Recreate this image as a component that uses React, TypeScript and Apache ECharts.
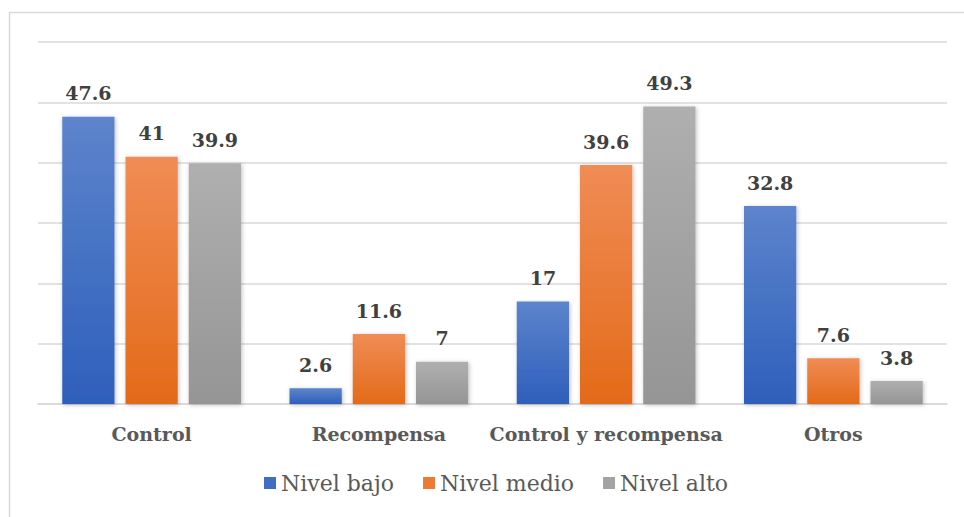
import React, { useEffect, useRef } from "react";
import * as echarts from "echarts";

const categories = ["Control", "Recompensa", "Control y recompensa", "Otros"];
const seriesNames = ["Nivel bajo", "Nivel medio", "Nivel alto"];
const nivelBajo = [47.6, 2.6, 17, 32.8];
const nivelMedio = [41, 11.6, 39.6, 7.6];
const nivelAlto = [39.9, 7, 49.3, 3.8];

const serif = "DejaVu Serif";

const grad = (top: string, bottom: string) =>
  new echarts.graphic.LinearGradient(0, 0, 0, 1, [
    { offset: 0, color: top },
    { offset: 1, color: bottom },
  ]);

const palette = [
  { top: "#5d84cc", bottom: "#2e5fbb", legend: "#3f6ec3" },
  { top: "#f08c55", bottom: "#e36a19", legend: "#ec7a35" },
  { top: "#afafaf", bottom: "#959595", legend: "#a3a3a3" },
];

export default function App() {
  const ref = useRef<HTMLDivElement>(null);

  useEffect(() => {
    if (!ref.current) return;
    const chart = echarts.init(ref.current, null, { renderer: "svg" });
    const values = [nivelBajo, nivelMedio, nivelAlto];

    chart.setOption({
      animation: false,
      backgroundColor: "#ffffff",
      textStyle: { fontFamily: serif },
      graphic: [
        {
          type: "rect",
          shape: { x: 9.5, y: 12.5, width: 980, height: 530 },
          style: { fill: "none", stroke: "#d9d9d9", lineWidth: 1.5 },
          silent: true,
          z: -1,
        },
      ],
      grid: { left: 38, right: 17, top: 42, bottom: 113, containLabel: false },
      legend: {
        bottom: 18,
        left: 259,
        itemWidth: 12,
        itemHeight: 12,
        itemGap: 29,
        icon: "rect",
        textStyle: { fontFamily: serif, fontSize: 22, color: "#595959" },
        data: seriesNames.map((n, i) => ({
          name: n,
          itemStyle: { color: palette[i].legend },
        })),
      },
      xAxis: {
        type: "category",
        data: categories,
        axisTick: { show: false },
        axisLine: { lineStyle: { color: "#d9d9d9", width: 1.5 } },
        axisLabel: {
          margin: 20,
          fontFamily: serif,
          fontWeight: "bold",
          fontSize: 19,
          color: "#595959",
          interval: 0,
        },
      },
      yAxis: {
        type: "value",
        min: 0,
        max: 60,
        interval: 10,
        axisLabel: { show: false },
        axisLine: { show: false },
        axisTick: { show: false },
        splitLine: { lineStyle: { color: "#d9d9d9", width: 1.5 } },
      },
      series: values.map((v, i) => ({
        name: seriesNames[i],
        type: "bar",
        data: v,
        barWidth: "23%",
        barGap: "21%",
        itemStyle: {
          color: grad(palette[i].top, palette[i].bottom),
          shadowColor: "rgba(0,0,0,0.25)",
          shadowBlur: 4,
          shadowOffsetX: 1,
          shadowOffsetY: 1,
        },
        label: {
          show: true,
          position: "top",
          distance: 14,
          fontFamily: serif,
          fontWeight: "bold",
          fontSize: 19,
          color: "#404040",
        },
      })),
    });

    return () => chart.dispose();
  }, []);

  return (
    <div
      ref={ref}
      style={{ position: "fixed", left: 0, top: 0, width: 964, height: 517 }}
    />
  );
}
